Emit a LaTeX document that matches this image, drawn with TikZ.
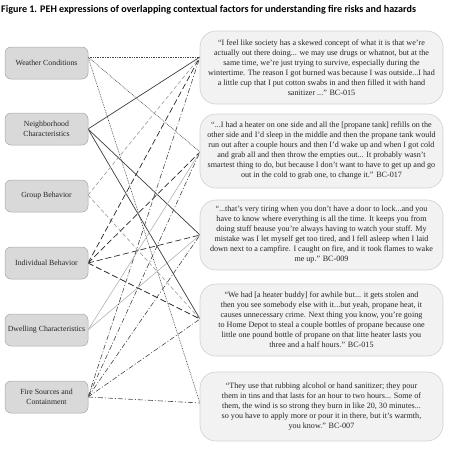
\documentclass[tikz,border=0pt]{standalone}
\usepackage{fontspec}
\setmainfont{Liberation Serif}
\newfontfamily\titlefont{Carlito}
\usetikzlibrary{arrows.meta}
\definecolor{lfill}{HTML}{D9D9D9}
\definecolor{ldraw}{HTML}{A6A6A6}
\definecolor{rfill}{HTML}{F2F2F2}
\definecolor{rdraw}{HTML}{D0D0D0}
\definecolor{ink}{HTML}{262626}
\pgfdeclarelayer{bg}
\pgfsetlayers{bg,main}
\begin{document}
\begin{tikzpicture}[x=1pt,y=-1pt,
 lbox/.style={draw=ldraw, fill=lfill, rounded corners=6pt, minimum width=83pt, minimum height=32pt, inner sep=1pt, align=center, font=\fontsize{7.8}{9.5}\selectfont, text=ink, line width=0.5pt},
 rbox/.style={draw=rdraw, fill=rfill, rounded corners=16pt, minimum width=243pt, inner sep=0pt, align=center, font=\fontsize{8.1}{10}\selectfont, text=ink, line width=0.6pt},
 wl/.style={draw=ink!85, line width=0.6pt, dash pattern=on 0.8pt off 0.9pt},
 nl/.style={draw=ink!90, line width=0.7pt},
 gl/.style={draw=black!40, line width=0.6pt, dash pattern=on 4pt off 2.5pt},
 il/.style={draw=ink, line width=0.7pt, dash pattern=on 6pt off 3pt},
 dl/.style={draw=black!30, line width=0.6pt},
 fl/.style={draw=ink!85, line width=0.6pt, dash pattern=on 5pt off 2pt on 1pt off 2pt}
]
\useasboundingbox (0,0) rectangle (450,451);
\node[anchor=west, font=\titlefont\bfseries\fontsize{10.1}{11}\selectfont, inner sep=0pt] (title) at (1,10) {Figure 1. PEH expressions of overlapping contextual factors for understanding fire risks and hazards};

% left factor boxes
\node[lbox] (w) at (46.5,63) {Weather Conditions};
\node[lbox] (n) at (46.5,129) {Neighborhood\\Characteristics};
\node[lbox] (g) at (46.5,196) {Group Behavior};
\node[lbox] (i) at (46.5,263) {Individual Behavior};
\node[lbox] (d) at (46.5,330) {Dwelling Characteristics};
\node[lbox] (f) at (46.5,397) {Fire Sources and\\Containment};

% quote boxes
\node[rbox, minimum height=73pt] (r1) at (321.5,67.5) {“I feel like society has a skewed concept of what it is that we’re\\actually out there doing... we may use drugs or whatnot, but at the\\same time, we’re just trying to survive, especially during the\\wintertime. The reason I got burned was because I was outside...I had\\a little cup that I put cotton swabs in and then filled it with hand\\sanitizer ...” BC-015};
\node[rbox, minimum height=74pt] (r2) at (321.5,151) {“...I had a heater on one side and all the [propane tank] refills on the\\other side and I’d sleep in the middle and then the propane tank would\\run out after a couple hours and then I’d wake up and when I got cold\\and grab all and then throw the empties out... It probably wasn’t\\smartest thing to do, but because I don’t want to have to get up and go\\out in the cold to grab one, to change it.” BC-017};
\node[rbox, minimum height=70pt] (r3) at (321.5,235) {“...that’s very tiring when you don’t have a door to lock...and you\\have to know where everything is all the time. It keeps you from\\doing stuff beause you’re always having to watch your stuff. My\\mistake was I let myself get too tired, and I fell asleep when I laid\\down next to a campfire. I caught on fire, and it took flames to wake\\me up.” BC-009};
\node[rbox, minimum height=72pt] (r4) at (321.5,320) {“We had [a heater buddy] for awhile but... it gets stolen and\\then you see somebody else with it...but yeah, propane heat, it\\causes unnecessary crime. Next thing you know, you’re going\\to Home Depot to steal a couple bottles of propane because one\\little one pound bottle of propane on that litte heater lasts you\\three and a half hours.” BC-015};
\node[rbox, minimum height=69pt] (r5) at (321.5,406.5) {“They use that rubbing alcohol or hand sanitizer; they pour\\them in tins and that lasts for an hour to two hours... Some of\\them, the wind is so strong they burn in like 20, 30 minutes...\\so you have to apply more or pour it in there, but it’s warmth,\\you know.” BC-007};

% attachment points
\coordinate (wa) at (88,57);
\coordinate (na) at (88,129);
\coordinate (ga) at (88,195);
\coordinate (ia) at (88,263);
\coordinate (da) at (88,330);
\coordinate (fa) at (88,397);
\coordinate (b1) at (200,57);
\coordinate (b2) at (200,152);
\coordinate (b3) at (200,235);
\coordinate (b4) at (200,319);
\coordinate (b5) at (200,403);

\begin{pgfonlayer}{bg}
% weather
\draw[wl] (wa) -- (b1);
\draw[wl] (wa) -- (b2);
\draw[wl] (wa) -- (b5);
% neighborhood
\draw[nl] (na) -- (b1);
\draw[nl] (na) -- (b3);
\draw[nl] (na) -- (b4);
% group
\draw[gl] (ga) -- (b1);
\draw[gl] (ga) -- (b4);
% individual
\draw[il] (ia) -- (b1);
\draw[il] (ia) -- (b2);
\draw[il] (ia) -- (b3);
\draw[il] (ia) -- (b4);
% dwelling
\draw[dl] (da) -- (b2);
\draw[dl] (da) -- (b3);
% fire sources
\draw[fl] (fa) -- (b1);
\draw[fl, {Stealth[length=3pt,width=2.5pt]}-] (fa) -- (b2);
\draw[fl] (fa) -- (b3);
\draw[fl] (fa) -- (b4);
\draw[fl] (fa) -- (b5);
\end{pgfonlayer}
\end{tikzpicture}
\end{document}
